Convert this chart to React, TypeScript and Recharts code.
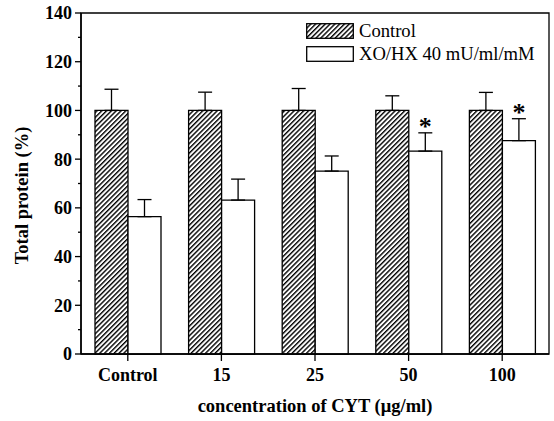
import React from 'react';
import {
  BarChart, Bar, XAxis, YAxis, ErrorBar, LabelList, ReferenceArea,
} from 'recharts';

const categories = ['Control', '15', '25', '50', '100'];
const controlValues = [100, 100, 100, 100, 100];
const controlErrors = [8.7, 7.5, 9, 6, 7.4];
const xoValues = [56.4, 63.2, 75.1, 83.3, 87.6];
const xoErrors = [7, 8.6, 6.2, 7.5, 9];
const significance = ['', '', '', '*', '*'];
const yTicks = [0, 10, 20, 30, 40, 50, 60, 70, 80, 90, 100, 110, 120, 130, 140];

const seriesNames = ['Control', 'XO/HX 40 mU/ml/mM'];

const data = categories.map((c, i) => ({
  category: c,
  control: controlValues[i],
  controlErr: [0, controlErrors[i]],
  xo: xoValues[i],
  xoErr: [0, xoErrors[i]],
}));

const FONT = '"Liberation Serif", "Times New Roman", serif';

const YTick = (props: any) => {
  const { x, y, payload } = props;
  const v = payload.value;
  const major = v % 20 === 0;
  return (
    <g>
      <line x1={x - (major ? 6 : 3)} x2={x} y1={y} y2={y} stroke="#000" strokeWidth={1.3} />
      {major && (
        <text x={x - 9} y={y} dy="0.36em" textAnchor="end" fontFamily={FONT} fontWeight="bold" fontSize={18} fill="#000">
          {v}
        </text>
      )}
    </g>
  );
};

const StarLabel = (props: any) => {
  const { x, y, width, height, index } = props;
  const mark = significance[index];
  if (!mark) return null;
  const pxPerUnit = height / xoValues[index];
  const topY = y - xoErrors[index] * pxPerUnit;
  return (
    <text x={x + width / 2} y={topY + 2} textAnchor="middle" fontFamily={FONT} fontWeight="bold" fontSize={26} fill="#000">
      {mark}
    </text>
  );
};

const LegendBox = () => (
  <div style={{ position: 'absolute', left: 306, top: 19, fontFamily: FONT, fontSize: 18.6, color: '#000', lineHeight: '23px' }}>
    <div style={{ display: 'flex', alignItems: 'center', height: 23 }}>
      <svg width={48} height={16} style={{ marginRight: 5 }}>
        <rect x={0.7} y={0.7} width={46.6} height={14.6} fill="url(#hatch)" stroke="#000" strokeWidth={1.3} />
      </svg>
      <span>{seriesNames[0]}</span>
    </div>
    <div style={{ display: 'flex', alignItems: 'center', height: 23 }}>
      <svg width={48} height={16} style={{ marginRight: 5 }}>
        <rect x={0.7} y={0.7} width={46.6} height={14.6} fill="#fff" stroke="#000" strokeWidth={1.3} />
      </svg>
      <span>{seriesNames[1]}</span>
    </div>
  </div>
);

export default function App() {
  return (
    <div style={{ position: 'absolute', left: 0, top: 0, width: 554, height: 421, background: '#fff' }}>
      <BarChart
        width={554}
        height={421}
        data={data}
        margin={{ top: 13, right: 5, bottom: 0, left: 0 }}
        barSize={33}
        barGap={0}
      >
        <defs>
          <pattern id="hatch" patternUnits="userSpaceOnUse" width={3.4} height={3.4} patternTransform="rotate(45)">
            <rect width={3.4} height={3.4} fill="#fff" />
            <line x1={0.7} y1={0} x2={0.7} y2={3.4} stroke="#000" strokeWidth={1.4} />
          </pattern>
        </defs>
        <XAxis
          dataKey="category"
          height={67}
          tickSize={7}
          tickMargin={7}
          axisLine={{ stroke: '#000', strokeWidth: 1.5 }}
          tickLine={{ stroke: '#000', strokeWidth: 1.3 }}
          tick={{ fill: '#000', fontFamily: FONT, fontWeight: 'bold', fontSize: 18 }}
          label={{
            value: 'concentration of CYT (\u03bcg/ml)',
            position: 'insideBottom',
            offset: 9,
            fill: '#000',
            style: { fontFamily: FONT, fontWeight: 'bold', fontSize: 18.5, fill: '#000' },
          }}
        />
        <YAxis
          width={81}
          domain={[0, 140]}
          ticks={yTicks}
          interval={0}
          tickSize={0}
          tickMargin={0}
          tickLine={false}
          axisLine={{ stroke: '#000', strokeWidth: 1.5 }}
          tick={<YTick />}
          label={{
            value: 'Total protein (%)',
            angle: -90,
            position: 'insideLeft',
            offset: 21,
            dy: 12,
            style: { textAnchor: 'middle', fontFamily: FONT, fontWeight: 'bold', fontSize: 18.5, fill: '#000' },
          }}
        />
        <ReferenceArea y1={0} y2={140} fill="none" stroke="#000" strokeWidth={1.3} ifOverflow="visible" />
        <Bar dataKey="control" name={seriesNames[0]} fill="url(#hatch)" stroke="#000" strokeWidth={1.3} isAnimationActive={false}>
          <ErrorBar dataKey="controlErr" direction="y" width={7} stroke="#000" strokeWidth={1.3} />
        </Bar>
        <Bar dataKey="xo" name={seriesNames[1]} fill="#fff" stroke="#000" strokeWidth={1.3} isAnimationActive={false}>
          <ErrorBar dataKey="xoErr" direction="y" width={7} stroke="#000" strokeWidth={1.3} />
          <LabelList dataKey="xo" content={<StarLabel />} />
        </Bar>
      </BarChart>
      <LegendBox />
    </div>
  );
}
